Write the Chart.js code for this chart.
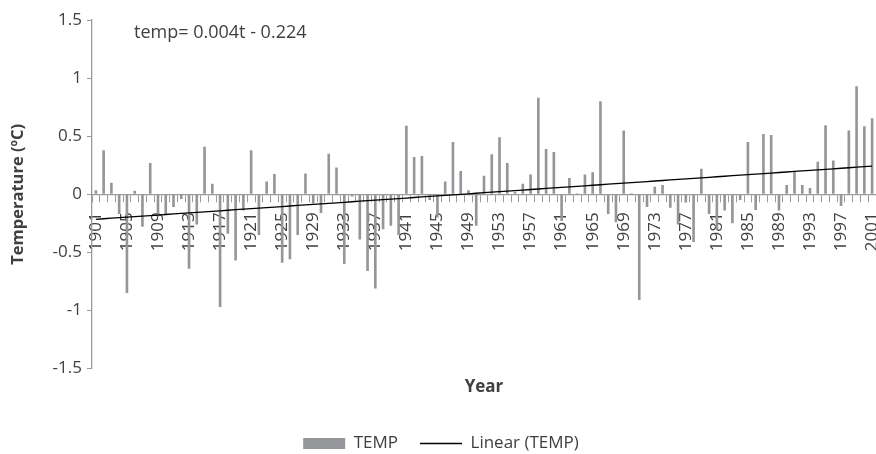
<!DOCTYPE html>
<html>
<head>
<meta charset="utf-8">
<script src="https://cdn.jsdelivr.net/npm/chart.js@4.4.1/dist/chart.umd.min.js"></script>
<style>
    html, body { margin: 0; padding: 0; background: #fff; }
    #wrap { width: 876px; height: 454px; }
</style>
</head>
<body>
<div id="wrap"><canvas id="myChart"></canvas></div>
<script>
    // years 1901 - 2001
    var years = [];
    for (var y = 1901; y <= 2001; y++) years.push(String(y));

    // temperature anomaly per year (ºC)
    var temp = [
        0.035, 0.38, 0.10, -0.17, -0.85, 0.03, -0.28, 0.27, -0.19, -0.17,   // 1901-1910
        -0.11, -0.04, -0.64, -0.26, 0.41, 0.09, -0.97, -0.34, -0.57, -0.14,  // 1911-1920
        0.38, -0.35, 0.11, 0.175, -0.59, -0.56, -0.35, 0.18, -0.08, -0.16,   // 1921-1930
        0.35, 0.23, -0.60, -0.02, -0.39, -0.66, -0.81, -0.30, -0.27, -0.35,  // 1931-1940
        0.59, 0.32, 0.33, -0.05, -0.20, 0.11, 0.45, 0.20, 0.035, -0.27,      // 1941-1950
        0.16, 0.345, 0.49, 0.27, 0.02, 0.09, 0.17, 0.83, 0.39, 0.365,        // 1951-1960
        -0.23, 0.14, 0.01, 0.17, 0.19, 0.80, -0.17, -0.24, 0.55, 0.01,       // 1961-1970
        -0.91, -0.11, 0.065, 0.08, -0.115, -0.26, -0.07, -0.41, 0.22, -0.17, // 1971-1980
        -0.30, -0.14, -0.25, -0.05, 0.45, -0.135, 0.52, 0.51, -0.14, 0.08,   // 1981-1990
        0.20, 0.08, 0.055, 0.28, 0.595, 0.29, -0.10, 0.55, 0.93, 0.585,      // 1991-2000
        0.655                                                                // 2001
    ];

    var yTicks = [-1.5, -1, -0.5, 0, 0.5, 1, 1.5];
    var equationText = "temp= 0.004t - 0.224";

    // linear trend (least squares over t = 1..n), like the spreadsheet trendline
    var n = temp.length, st = 0, sv = 0, stt = 0, stv = 0;
    temp.forEach(function (v, i) {
        var t = i + 1;
        st += t; sv += v; stt += t * t; stv += t * v;
    });
    var slope = (n * stv - st * sv) / (n * stt - st * st);
    var intercept = (sv - slope * st) / n;
    var trend = temp.map(function (v, i) { return slope * (i + 1) + intercept; });

    var textColor = '#404040';
    var axisColor = '#9a9a9a';
    var fontFamily = "'Open Sans', sans-serif";

    var equationLabel = {
        id: 'equationLabel',
        afterDraw: function (chart) {
            var ctx = chart.ctx;
            ctx.save();
            ctx.font = "18px " + fontFamily;
            ctx.fillStyle = textColor;
            ctx.textBaseline = 'middle';
            ctx.fillText(equationText, 134, 33);
            ctx.restore();
        }
    };

    var myChart = new Chart(document.getElementById('myChart'), {
        data: {
            labels: years,
            datasets: [{
                type: 'line',
                label: 'Linear (TEMP)',
                data: trend,
                borderColor: '#000',
                borderWidth: 1.3,
                pointRadius: 0,
                fill: false,
                order: 0
            }, {
                type: 'bar',
                label: 'TEMP',
                data: temp,
                backgroundColor: '#95969a',
                borderWidth: 0,
                categoryPercentage: 1,
                barPercentage: 0.34,
                order: 1
            }]
        },
        options: {
            responsive: true,
            maintainAspectRatio: false,
            animation: false,
            layout: { padding: { top: 20, right: 0, left: 6, bottom: -8 } },
            scales: {
                x: {
                    position: { y: 0 },
                    afterFit: function (scale) { scale.paddingLeft = 0; scale.paddingRight = 0; },
                    grid: { drawOnChartArea: false, offset: true, tickLength: 7, color: axisColor },
                    border: { color: axisColor, width: 1.3 },
                    ticks: {
                        autoSkip: false,
                        minRotation: 90,
                        maxRotation: 90,
                        padding: 11,
                        color: textColor,
                        font: { family: fontFamily, size: 17 },
                        callback: function (val, idx) { return idx % 4 === 0 ? this.getLabelForValue(val) : ''; }
                    }
                },
                y: {
                    min: -1.5,
                    max: 1.5,
                    afterBuildTicks: function (scale) {
                        scale.ticks = yTicks.map(function (v) { return { value: v }; });
                    },
                    afterFit: function (scale) { scale.width = 86; },
                    grid: { drawOnChartArea: false, tickLength: 5, color: axisColor },
                    border: { color: axisColor, width: 1.3 },
                    ticks: {
                        padding: 5,
                        color: textColor,
                        font: { family: fontFamily, size: 17 },
                        callback: function (val) { return String(val); }
                    },
                    title: {
                        display: true,
                        text: 'Temperature (ºC)',
                        color: textColor,
                        padding: 2,
                        font: { family: fontFamily, size: 16.5, weight: 'bold' }
                    }
                }
            },
            plugins: {
                legend: {
                    position: 'bottom',
                    labels: {
                        usePointStyle: true,
                        pointStyleWidth: 42,
                        boxHeight: 11,
                        padding: 22,
                        color: textColor,
                        font: { family: fontFamily, size: 17 },
                        generateLabels: function (chart) {
                            var items = Chart.defaults.plugins.legend.labels.generateLabels(chart);
                            items.forEach(function (it) {
                                if (it.datasetIndex === 1) { it.pointStyle = 'rect'; it.lineWidth = 0; }
                                else { it.pointStyle = 'line'; it.lineWidth = 1.3; }
                            });
                            return items.reverse();
                        }
                    }
                },
                title: {
                    display: true,
                    text: 'Year',
                    position: 'bottom',
                    fullSize: false,
                    weight: 500,
                    color: textColor,
                    padding: { top: 8, bottom: 16 },
                    font: { family: fontFamily, size: 17, weight: 'bold' }
                },
                tooltip: { enabled: false }
            }
        },
        plugins: [equationLabel]
    });
</script>
</body>
</html>
